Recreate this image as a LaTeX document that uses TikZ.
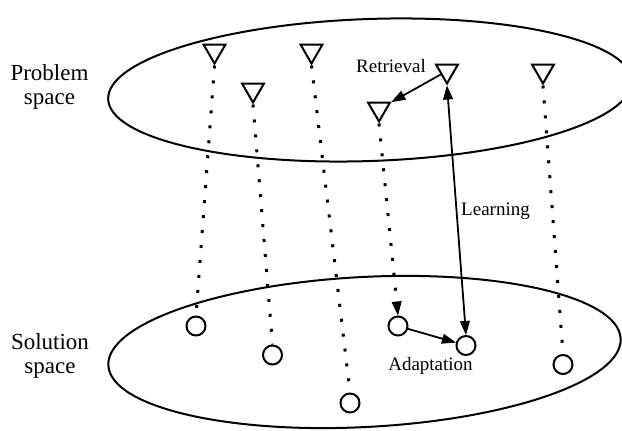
\documentclass[tikz,border=0pt]{standalone}
\usepackage{fontspec}
\setmainfont{Liberation Serif}
\usetikzlibrary{arrows.meta,shapes.geometric}
\begin{document}
\begin{tikzpicture}[x=0.5pt,y=-0.5pt,
  tri/.style={draw,line width=1pt,regular polygon,regular polygon sides=3,
    shape border rotate=180,minimum size=12.5pt,inner sep=0pt},
  cas/.style={draw,line width=1pt,circle,minimum size=9.5pt,inner sep=0pt},
  spaceline/.style={line width=1pt},
  link/.style={line width=1.5pt,dash pattern=on 1.5pt off 6pt},
  tip/.style={-{Triangle[length=7pt,width=5pt,line width=0.4pt]}},
  arr/.style={line width=0.9pt,tip},
  arrtwo/.style={line width=0.9pt,{Triangle[length=7pt,width=5pt,line width=0.4pt]}-{Triangle[length=7pt,width=5pt,line width=0.4pt]}},
  biglabel/.style={font=\fontsize{11.5}{12}\selectfont,align=center,inner sep=0pt},
  smalllabel/.style={font=\fontsize{9.5}{11}\selectfont,inner sep=0pt,anchor=base}
]
\useasboundingbox (0,0) rectangle (622,431);
% spaces
\draw[spaceline,rotate around={2:(370,90)}] (370,90) ellipse [x radius=262,y radius=71];
\draw[spaceline,rotate around={3:(364.5,352)}] (364.5,352) ellipse [x radius=256.5,y radius=75];
% labels
\node[biglabel] (pl) at (49.5,87) {Problem\\space};
\node[biglabel] (sl) at (50,356) {Solution\\space};
% problems
\node[tri] (T1) at (214.5,51) {};
\node[tri] (T2) at (253,90) {};
\node[tri] (T3) at (311.5,51) {};
\node[tri] (T4) at (379,109) {};
\node[tri] (T5) at (447,71) {};
\node[tri] (T6) at (543,71) {};
% solutions
\node[cas] (C1) at (196,326) {};
\node[cas] (C2) at (272.5,355) {};
\node[cas] (C3) at (350,403) {};
\node[cas] (C4) at (398,326) {};
\node[cas] (C5) at (466,345.5) {};
\node[cas] (C6) at (563,364.5) {};
% links
\draw[link] (T1.south) -- (C1.north);
\draw[link] (T2.south) -- (C2.north);
\draw[link] (T3.south) -- (C3.north);
\draw[link,tip] (T4.south) -- (C4.north);
\draw[link] (T6.south) -- (C6.north);
% cycle
\draw[arr] (T5) -- (T4);
\draw[arrtwo] (T5.south) -- (C5.north);
\draw[arr] (C4) -- (C5);
\node[smalllabel] (ret) at (391,73) {Retrieval};
\node[smalllabel] (lea) at (495.5,216) {Learning};
\node[smalllabel] (ada) at (430.5,371) {Adaptation};
\end{tikzpicture}
\end{document}
